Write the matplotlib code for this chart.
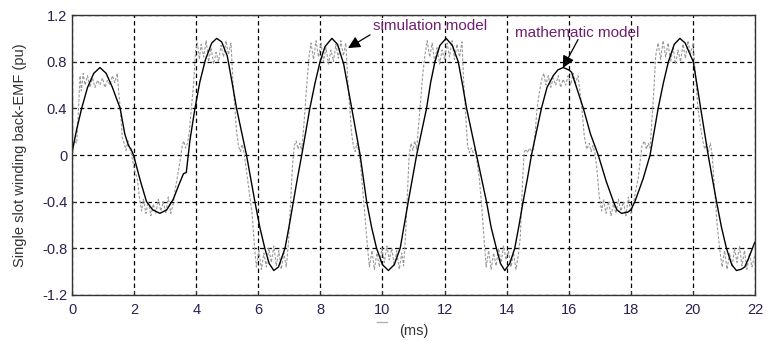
import matplotlib
matplotlib.use("Agg")
import matplotlib.pyplot as plt
from matplotlib.lines import Line2D

plt.rcParams['font.family'] = ['Liberation Sans', 'DejaVu Sans']

# mathematic model (solid black): (time ms, back-EMF pu)
math_pts = [
    (0.0, 0.02), (0.15, 0.22), (0.31, 0.40), (0.5, 0.58), (0.7, 0.70), (0.9, 0.75),
    (1.1, 0.70), (1.3, 0.58), (1.55, 0.40), (1.7, 0.18), (1.82, 0.08), (1.9, 0.05),
    (1.98, 0.0), (2.2, -0.22), (2.4, -0.40), (2.6, -0.47), (2.83, -0.50), (3.05, -0.47),
    (3.26, -0.38), (3.45, -0.25), (3.59, -0.16), (3.68, -0.15), (3.8, 0.13), (3.96, 0.40),
    (4.12, 0.63), (4.3, 0.82), (4.5, 0.96), (4.66, 1.0), (4.82, 0.97), (5.0, 0.85),
    (5.15, 0.63), (5.3, 0.40), (5.46, 0.20), (5.62, 0.0), (5.89, -0.40), (6.05, -0.62),
    (6.21, -0.80), (6.35, -0.93), (6.5, -0.99), (6.65, -0.96), (6.86, -0.80), (7.0, -0.60),
    (7.13, -0.40), (7.26, -0.20), (7.4, 0.0), (7.53, 0.20), (7.66, 0.40), (7.83, 0.62),
    (7.99, 0.80), (8.15, 0.93), (8.37, 1.0), (8.55, 0.95), (8.75, 0.78), (9.01, 0.40),
    (9.28, 0.0), (9.49, -0.40), (9.65, -0.62), (9.81, -0.80), (10.0, -0.94), (10.19, -0.99),
    (10.38, -0.94), (10.57, -0.80), (10.7, -0.60), (10.83, -0.40), (11.1, 0.0), (11.42, 0.40),
    (11.55, 0.62), (11.69, 0.80), (11.85, 0.94), (12.05, 1.0), (12.25, 0.94), (12.44, 0.80),
    (12.58, 0.60), (12.71, 0.40), (13.03, 0.0), (13.35, -0.40), (13.5, -0.62), (13.67, -0.80),
    (13.8, -0.93), (13.94, -0.99), (14.1, -0.93), (14.26, -0.80), (14.4, -0.60), (14.53, -0.40),
    (14.67, -0.20), (14.8, 0.0), (15.12, 0.40), (15.3, 0.58), (15.5, 0.68), (15.65, 0.73),
    (15.82, 0.75), (16.0, 0.73), (16.09, 0.71), (16.25, 0.58), (16.47, 0.40), (16.7, 0.18),
    (16.95, 0.0), (17.2, -0.22), (17.44, -0.40), (17.55, -0.47), (17.7, -0.50), (17.9, -0.49),
    (18.0, -0.47), (18.13, -0.40), (18.4, -0.20), (18.62, 0.0), (18.88, 0.40), (19.05, 0.62),
    (19.21, 0.80), (19.4, 0.95), (19.58, 1.0), (19.75, 0.96), (20.01, 0.80), (20.12, 0.62),
    (20.25, 0.40), (20.49, 0.0), (20.76, -0.40), (20.92, -0.62), (21.08, -0.80), (21.25, -0.94),
    (21.4, -0.99), (21.55, -0.98), (21.67, -0.96), (21.8, -0.88), (21.99, -0.75),
]

# simulation model (dashed grey): (time ms, back-EMF pu)
sim_pts = [
    (0.0, 0.05), (0.08, 0.12), (0.15, 0.10), (0.2, 0.35), (0.26, 0.68), (0.3, 0.55),
    (0.36, 0.70), (0.42, 0.60), (0.5, 0.68), (0.58, 0.58), (0.66, 0.66), (0.74, 0.58),
    (0.82, 0.64), (0.9, 0.60), (0.98, 0.66), (1.06, 0.58), (1.14, 0.64), (1.22, 0.60),
    (1.3, 0.68), (1.38, 0.62), (1.46, 0.70), (1.5, 0.55), (1.56, 0.38), (1.62, 0.15),
    (1.68, 0.10), (1.74, 0.04), (1.8, 0.12), (1.86, 0.06), (1.92, 0.0), (2.0, -0.12),
    (2.1, -0.20), (2.18, -0.38), (2.24, -0.48), (2.3, -0.38), (2.38, -0.50), (2.46, -0.40),
    (2.54, -0.52), (2.62, -0.42), (2.7, -0.50), (2.78, -0.38), (2.86, -0.48), (2.94, -0.40),
    (3.02, -0.50), (3.1, -0.36), (3.18, -0.50), (3.26, -0.42), (3.32, -0.30), (3.4, -0.18),
    (3.48, -0.05), (3.55, 0.08), (3.6, 0.12), (3.66, 0.06), (3.72, 0.10), (3.78, 0.20),
    (3.85, 0.42), (3.92, 0.62), (3.98, 0.90),
    (4.04, 0.96), (4.1, 0.82), (4.16, 0.95), (4.24, 0.84), (4.32, 0.98), (4.4, 0.80),
    (4.48, 0.92), (4.56, 0.78), (4.64, 0.88), (4.72, 0.80), (4.8, 0.94), (4.88, 0.84),
    (4.96, 0.98), (5.04, 0.86), (5.12, 0.96), (5.18, 0.65), (5.24, 0.42), (5.3, 0.20),
    (5.36, 0.08), (5.42, 0.03), (5.48, 0.09), (5.54, 0.02), (5.6, -0.10), (5.7, -0.30),
    (5.8, -0.50), (5.88, -0.80),
    (5.94, -0.96), (6.02, -0.82), (6.1, -0.98), (6.18, -0.84), (6.26, -0.96), (6.34, -0.80),
    (6.42, -0.92), (6.5, -0.78), (6.58, -0.95), (6.66, -0.82), (6.74, -0.98), (6.82, -0.84),
    (6.9, -0.96), (6.97, -0.76), (7.03, -0.45), (7.1, -0.10), (7.16, 0.08), (7.22, 0.12),
    (7.28, 0.05), (7.34, 0.10), (7.4, 0.04), (7.48, 0.30), (7.56, 0.60), (7.64, 0.86),
    (7.7, 0.96), (7.78, 0.82), (7.86, 0.98), (7.94, 0.84), (8.02, 0.96), (8.1, 0.80),
    (8.18, 0.92), (8.26, 0.78), (8.34, 0.90), (8.42, 0.80), (8.5, 0.95), (8.58, 0.83),
    (8.66, 0.98), (8.74, 0.85), (8.82, 0.96), (8.88, 0.65), (8.94, 0.42), (9.0, 0.20),
    (9.06, 0.08), (9.12, 0.03), (9.18, 0.10), (9.24, 0.03), (9.3, -0.10), (9.38, -0.35),
    (9.46, -0.60), (9.52, -0.80),
    (9.58, -0.96), (9.66, -0.82), (9.74, -0.98), (9.82, -0.84), (9.9, -0.96), (9.98, -0.80),
    (10.06, -0.92), (10.14, -0.78), (10.22, -0.90), (10.3, -0.80), (10.38, -0.95), (10.46, -0.82),
    (10.54, -0.98), (10.62, -0.84), (10.68, -0.95), (10.74, -0.70), (10.8, -0.35), (10.86, 0.0),
    (10.92, 0.10), (10.98, 0.04), (11.04, 0.12), (11.1, 0.05), (11.2, 0.38), (11.3, 0.70),
    (11.37, 0.86),
    (11.44, 0.98), (11.52, 0.84), (11.6, 0.96), (11.68, 0.80), (11.76, 0.92), (11.84, 0.78),
    (11.92, 0.90), (12.0, 0.82), (12.08, 0.96), (12.16, 0.84), (12.24, 0.98), (12.32, 0.82),
    (12.4, 0.95), (12.48, 0.84), (12.56, 0.97), (12.62, 0.60), (12.68, 0.35), (12.74, 0.08),
    (12.8, 0.02), (12.86, 0.06), (12.92, 0.02), (12.98, 0.05), (13.04, -0.05), (13.12, -0.20),
    (13.2, -0.45), (13.28, -0.75),
    (13.34, -0.96), (13.42, -0.82), (13.5, -0.98), (13.58, -0.84), (13.66, -0.95), (13.74, -0.80),
    (13.82, -0.92), (13.9, -0.78), (13.98, -0.90), (14.06, -0.82), (14.14, -0.96), (14.22, -0.84),
    (14.3, -0.98), (14.38, -0.85), (14.44, -0.70), (14.5, -0.30), (14.56, 0.02), (14.62, 0.05),
    (14.68, 0.02), (14.74, 0.06), (14.8, 0.03), (14.86, 0.05), (14.92, 0.20), (14.98, 0.40),
    (15.06, 0.55), (15.14, 0.66), (15.2, 0.70),
    (15.26, 0.60), (15.34, 0.68), (15.42, 0.58), (15.5, 0.66), (15.58, 0.60), (15.66, 0.68),
    (15.74, 0.58), (15.82, 0.65), (15.9, 0.60), (15.98, 0.68), (16.06, 0.60), (16.14, 0.70),
    (16.22, 0.62), (16.3, 0.68), (16.38, 0.50), (16.44, 0.35), (16.5, 0.16), (16.58, 0.05),
    (16.66, 0.10), (16.72, 0.03), (16.78, 0.08), (16.84, 0.02), (16.9, -0.10), (16.98, -0.35),
    (17.06, -0.48), (17.12, -0.38), (17.2, -0.50), (17.28, -0.40), (17.36, -0.52), (17.44, -0.42),
    (17.52, -0.50), (17.6, -0.38), (17.68, -0.48), (17.76, -0.40), (17.84, -0.52), (17.92, -0.36),
    (18.0, -0.50), (18.08, -0.42), (18.16, -0.30), (18.24, -0.20), (18.3, -0.05), (18.36, 0.08),
    (18.44, 0.12), (18.5, 0.05), (18.56, 0.10), (18.62, 0.06), (18.68, 0.30), (18.74, 0.55),
    (18.8, 0.85),
    (18.88, 0.96), (18.96, 0.82), (19.04, 0.98), (19.12, 0.84), (19.2, 0.96), (19.28, 0.80),
    (19.36, 0.92), (19.44, 0.78), (19.52, 0.90), (19.6, 0.80), (19.68, 0.95), (19.76, 0.83),
    (19.84, 0.98), (19.92, 0.86), (20.0, 0.96), (20.08, 0.70), (20.16, 0.40), (20.24, 0.25),
    (20.32, 0.12), (20.38, 0.05), (20.44, 0.10), (20.5, 0.03), (20.56, 0.10), (20.62, 0.0),
    (20.7, -0.30), (20.78, -0.60), (20.86, -0.80),
    (20.94, -0.96), (21.02, -0.82), (21.1, -0.98), (21.18, -0.84), (21.26, -0.96), (21.34, -0.80),
    (21.42, -0.92), (21.5, -0.78), (21.58, -0.95), (21.66, -0.82), (21.74, -0.98), (21.82, -0.84),
    (21.9, -0.96), (22.0, -0.85),
]

x_ticks = [0, 2, 4, 6, 8, 10, 12, 14, 16, 18, 20, 22]
y_ticks = [-1.2, -0.8, -0.4, 0, 0.4, 0.8, 1.2]
y_tick_labels = ['-1.2', '-0.8', '-0.4', '0', '0.4', '0.8', '1.2']

t_math, v_math = zip(*math_pts)
t_sim, v_sim = zip(*sim_pts)

fig = plt.figure(figsize=(7.82, 3.41), dpi=100)
ax = fig.add_axes([0.0921, 0.1349, 0.8734, 0.821])

ax.plot(t_sim, v_sim, color='#999999', linewidth=0.8, linestyle=(0, (2.5, 1.5)))
ax.plot(t_math, v_math, color='black', linewidth=1.0)

ax.set_xlim(0, 22)
ax.set_ylim(-1.2, 1.2)
ax.set_xticks(x_ticks)
ax.set_yticks(y_ticks)
ax.set_yticklabels(y_tick_labels)
ax.grid(True, color='black', linestyle=(0, (3.5, 2.5)), linewidth=0.9)
ax.tick_params(direction='in', length=3, labelsize=10.5, labelcolor='#2d1f4f', color='#333333')
ax.tick_params(axis='x', pad=6)
for s in ax.spines.values():
    s.set_color('#333333')
    s.set_linewidth(1.0)

ax.set_ylabel('Single slot winding back-EMF (pu)', fontsize=10.5, color='#333333', labelpad=11)
ax.set_xlabel('(ms)', fontsize=10.5, color='#333333', labelpad=5)

# annotation text and arrows
ax.text(9.69, 1.11, 'simulation model', fontsize=11, color='#702070', va='center', ha='left')
ax.annotate('', xy=(8.89, 0.917), xytext=(9.6, 1.03),
            arrowprops=dict(arrowstyle='-|>', color='black', lw=0.9,
                            mutation_scale=18, shrinkA=0, shrinkB=0))
ax.text(14.27, 1.05, 'mathematic model', fontsize=11, color='#702070', va='center', ha='left')
ax.annotate('', xy=(15.81, 0.746), xytext=(16.3, 0.99),
            arrowprops=dict(arrowstyle='-|>', color='black', lw=0.9,
                            mutation_scale=18, shrinkA=0, shrinkB=0))

# leftover light mark under the x ticks
fig.add_artist(Line2D([377 / 782, 387 / 782], [1 - 322 / 341, 1 - 322 / 341],
                      color='#b0b0b0', linewidth=1.0))

fig.savefig('out.png', dpi=100)
